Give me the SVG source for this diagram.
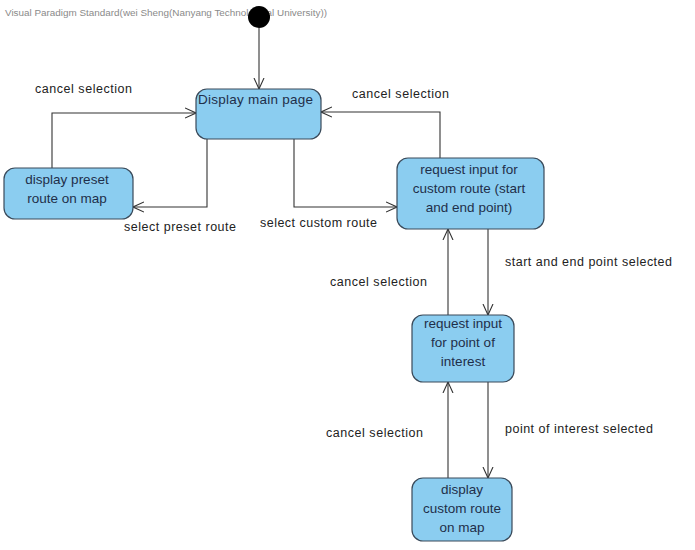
<svg xmlns="http://www.w3.org/2000/svg" width="695" height="550" viewBox="0 0 695 550">
<style>
.node rect{fill:#8BCDF0;stroke:#3A4A5A;stroke-width:1.2}
.nt{font-family:"Liberation Sans",Arial,sans-serif;font-size:13.5px;fill:#1F2F4A;text-anchor:middle}
.lbl{font-family:"Liberation Sans",Arial,sans-serif;font-size:12.5px;fill:#222}
.edge{fill:none;stroke:#333;stroke-width:1.1;marker-end:url(#arr)}
</style>
<defs>
<marker id="arr" viewBox="0 0 12 12" refX="11" refY="6" markerWidth="12" markerHeight="12" markerUnits="userSpaceOnUse" orient="auto">
<path d="M0,1 L11,6 L0,11" fill="none" stroke="#333" stroke-width="1.1"/>
</marker>
</defs>
<rect width="695" height="550" fill="#fff"/>
<text x="5" y="16" font-family="Liberation Sans,Arial,sans-serif" font-size="8.5" fill="#8a8a8a" textLength="322" lengthAdjust="spacingAndGlyphs">Visual Paradigm Standard(wei Sheng(Nanyang Technological University))</text>
<g id="initial"><circle cx="259" cy="17" r="11" fill="#000"/></g>
<g id="connectors">
<line class="edge" x1="259" y1="28" x2="259" y2="89"/>
<polyline class="edge" points="52,168 52,113 196,113"/>
<polyline class="edge" points="207,139 207,207 133,207"/>
<polyline class="edge" points="294,139 294,207 397,207"/>
<polyline class="edge" points="440,158 440,112 321,112"/>
<line class="edge" x1="488" y1="229" x2="488" y2="315"/>
<line class="edge" x1="448" y1="315" x2="448" y2="229"/>
<line class="edge" x1="488" y1="382" x2="488" y2="478"/>
<line class="edge" x1="448" y1="478" x2="448" y2="382"/>
<text class="lbl" x="35" y="93" textLength="97">cancel selection</text>
<text class="lbl" x="124" y="231" textLength="112">select preset route</text>
<text class="lbl" x="260" y="227" textLength="117">select custom route</text>
<text class="lbl" x="352" y="98" textLength="97">cancel selection</text>
<text class="lbl" x="505" y="266" textLength="167">start and end point selected</text>
<text class="lbl" x="330" y="286" textLength="97">cancel selection</text>
<text class="lbl" x="505" y="433" textLength="148">point of interest selected</text>
<text class="lbl" x="326" y="437" textLength="97">cancel selection</text>
</g>
<g id="main" class="node"><rect x="196" y="89" width="125" height="50" rx="11"/><text class="nt" x="198" y="104" style="text-anchor:start" textLength="115">Display main page</text></g>
<g id="preset" class="node"><rect x="4" y="168" width="129" height="51" rx="11"/><text class="nt" x="67" y="184">display preset</text><text class="nt" x="67" y="203">route on map</text></g>
<g id="custom" class="node"><rect x="397" y="158" width="147" height="71" rx="11"/><text class="nt" x="469" y="174">request input for</text><text class="nt" x="469" y="193">custom route (start</text><text class="nt" x="469" y="212">and end point)</text></g>
<g id="poi" class="node"><rect x="412" y="315" width="102" height="67" rx="11"/><text class="nt" x="463" y="328">request input</text><text class="nt" x="463" y="347">for point of</text><text class="nt" x="463" y="366">interest</text></g>
<g id="display" class="node"><rect x="412" y="478" width="100" height="63" rx="11"/><text class="nt" x="462" y="494">display</text><text class="nt" x="462" y="513">custom route</text><text class="nt" x="462" y="532">on map</text></g>
</svg>
